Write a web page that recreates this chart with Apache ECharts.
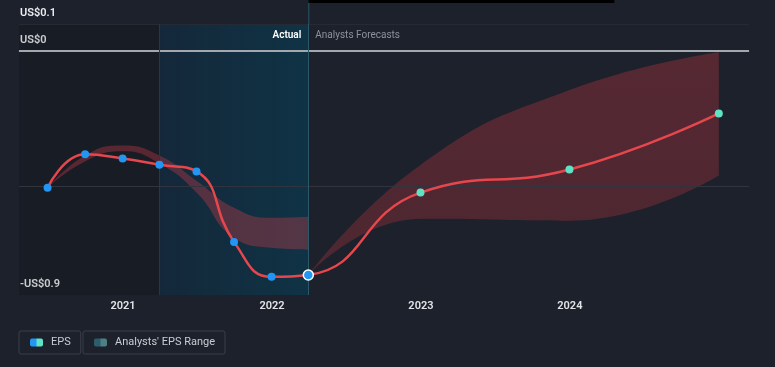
<!DOCTYPE html>
<html>
<head>
<meta charset="utf-8">
<script src="https://cdn.jsdelivr.net/npm/echarts@6/dist/echarts.min.js"></script>
<style>
  html, body { margin: 0; padding: 0; background: #1d212b; }
  #chart { width: 775px; height: 367px; }
</style>
</head>
<body>
<div id="chart"></div>
<script>
// ---- data ----
const actualDates = ['2020-06-30', '2020-09-30', '2020-12-31', '2021-03-31', '2021-06-30', '2021-09-30', '2021-12-31', '2022-03-31'];
const actualEps = [-0.504, -0.381, -0.396, -0.419, -0.444, -0.704, -0.833, -0.826];
const forecastDates = ['2022-12-31', '2023-12-31', '2024-12-31'];
const forecastEps = [-0.522, -0.437, -0.230];

const pastRangeLow = [-0.504, -0.407, -0.370, -0.415, -0.522, -0.689, -0.726, -0.733];
const pastRangeHigh = [-0.504, -0.385, -0.348, -0.385, -0.478, -0.578, -0.615, -0.611];

const fcRangeDates = ['2022-03-31', '2022-12-31', '2023-12-31', '2024-12-31'];
const fcRangeLow = [-0.826, -0.619, -0.626, -0.459];
const fcRangeHigh = [-0.826, -0.420, -0.144, -0.004];

const yearLabels = [2021, 2022, 2023, 2024];
const yTickLabels = { '0.1': 'US$0.1', '0': 'US$0', '-0.9': '-US$0.9' };
const shadeStart = '2021-03-31';
const dividerDate = '2022-03-31';
const axisMin = '2020-04-21';
const axisMax = '2025-03-15';

// ---- build ----
const FONT = 'Roboto, "Noto Sans", sans-serif';
const RED = '#e5474d';
const BLUE = '#2196f3';
const CYAN = '#5fe3c6';

const epsData = [];
actualDates.forEach((d, i) => {
  const last = i === actualDates.length - 1;
  epsData.push({
    value: [d, actualEps[i]],
    symbolSize: last ? 10 : 8,
    itemStyle: last ? { color: BLUE, borderColor: '#ffffff', borderWidth: 1.5 } : { color: BLUE, borderWidth: 0 }
  });
});
forecastDates.forEach((d, i) => {
  epsData.push({ value: [d, forecastEps[i]], symbolSize: 8, itemStyle: { color: CYAN, borderWidth: 0 } });
});

const pastLowData = actualDates.map((d, i) => [d, pastRangeLow[i]]);
const pastDiffData = actualDates.map((d, i) => [d, +(pastRangeHigh[i] - pastRangeLow[i]).toFixed(4)]);
const fcLowData = fcRangeDates.map((d, i) => [d, fcRangeLow[i]]);
const fcDiffData = fcRangeDates.map((d, i) => [d, +(fcRangeHigh[i] - fcRangeLow[i]).toFixed(4)]);

const chart = echarts.init(document.getElementById('chart'), null, { renderer: 'canvas' });

function yLabel(v) {
  for (const k in yTickLabels) {
    if (Math.abs(v - parseFloat(k)) < 1e-6) return yTickLabels[k];
  }
  return '';
}

const legendCommon = {
  top: 331,
  padding: [6, 10, 6, 11],
  borderColor: '#3a3f4a', borderWidth: 1, borderRadius: 2,
  itemWidth: 13, itemHeight: 8, itemGap: 5,
  icon: 'roundRect',
  selectedMode: false,
  textStyle: { color: '#c9ccd2', fontSize: 11, fontFamily: FONT, padding: [0, 0, 0, 3] },
  lineStyle: { opacity: 0 }
};

const option = {
  backgroundColor: '#1d212b',
  animation: false,
  textStyle: { fontFamily: FONT },
  grid: { left: 19, right: 26, top: 24, bottom: 72, containLabel: false },
  xAxis: {
    type: 'time',
    min: axisMin,
    max: axisMax,
    splitNumber: 5,
    axisLine: { show: true, lineStyle: { color: '#444955', width: 1 } },
    axisTick: { show: false },
    splitLine: { show: false },
    axisLabel: {
      color: '#e2e4e8',
      fontSize: 11,
      fontWeight: 600,
      fontFamily: FONT,
      margin: 6,
      showMinLabel: false,
      showMaxLabel: false,
      hideOverlap: false,
      formatter: function (val) {
        const d = new Date(val);
        if (d.getMonth() === 0 && d.getDate() === 1 && yearLabels.includes(d.getFullYear())) return String(d.getFullYear());
        return '';
      }
    }
  },
  yAxis: {
    type: 'value',
    min: -0.9,
    max: 0.1,
    interval: 0.1,
    axisLine: { show: false },
    axisTick: { show: false },
    splitLine: { show: false },
    axisLabel: {
      inside: true,
      margin: 1,
      verticalAlign: 'bottom',
      padding: [0, 0, 5, 0],
      color: '#eceef1',
      fontSize: 11,
      fontWeight: 600,
      fontFamily: FONT,
      showMinLabel: true,
      showMaxLabel: true,
      formatter: yLabel
    }
  },
  legend: [
    Object.assign({}, legendCommon, {
      data: ['EPS'],
      left: 19,
      itemStyle: {
        color: { type: 'linear', x: 0, y: 0, x2: 1, y2: 0, colorStops: [
          { offset: 0, color: BLUE }, { offset: 0.45, color: BLUE }, { offset: 0.55, color: CYAN }, { offset: 1, color: CYAN }] },
        borderWidth: 0
      }
    }),
    Object.assign({}, legendCommon, {
      data: ["Analysts' EPS Range"],
      left: 83,
      itemStyle: {
        color: { type: 'linear', x: 0, y: 0, x2: 1, y2: 0, colorStops: [
          { offset: 0, color: '#2c5d6e' }, { offset: 0.45, color: '#2c5d6e' }, { offset: 0.55, color: '#4d7f83' }, { offset: 1, color: '#4d7f83' }] },
        borderWidth: 0
      }
    })
  ],
  series: [
    {
      name: 'bg',
      type: 'line',
      z: 0,
      silent: true,
      data: epsData.map(d => d.value),
      showSymbol: false,
      symbol: 'none',
      lineStyle: { opacity: 0 },
      markArea: {
        silent: true,
        data: [
          [{ xAxis: axisMin, itemStyle: { color: 'rgba(0,0,0,0.14)' } }, { xAxis: shadeStart }],
          [{ xAxis: shadeStart, itemStyle: { color: { type: 'linear', x: 0, y: 0, x2: 1, y2: 0, colorStops: [
            { offset: 0, color: '#14283a' }, { offset: 1, color: '#0f3345' }] }, borderWidth: 0 } },
           { xAxis: dividerDate }]
        ]
      },
      markLine: {
        silent: true,
        symbol: 'none',
        label: { show: false },
        data: [
          { yAxis: 0.1, lineStyle: { color: '#252a34', width: 1, type: 'solid' } },
          { yAxis: -0.5, lineStyle: { color: '#2f343e', width: 1, type: 'solid' } },
          { yAxis: 0, lineStyle: { color: '#a3a7ae', width: 2, type: 'solid' } },
          { xAxis: shadeStart, lineStyle: { color: '#1f3a48', width: 1, type: 'solid' } },
          { xAxis: dividerDate, lineStyle: { color: '#2b5868', width: 1, type: 'solid' } }
        ]
      }
    },
    {
      name: 'pastLow',
      type: 'line',
      stack: 'past',
      stackStrategy: 'all',
      z: 1,
      smooth: 0.5,
      silent: true,
      symbol: 'none',
      lineStyle: { opacity: 0 },
      data: pastLowData
    },
    {
      name: "Analysts' EPS Range",
      type: 'line',
      stack: 'past',
      stackStrategy: 'all',
      z: 1,
      smooth: 0.5,
      silent: true,
      symbol: 'none',
      lineStyle: { opacity: 0 },
      areaStyle: { color: 'rgba(205,62,72,0.36)', opacity: 1 },
      data: pastDiffData
    },
    {
      name: 'fcLow',
      type: 'line',
      stack: 'fc',
      stackStrategy: 'all',
      z: 1,
      smooth: 0.5,
      silent: true,
      symbol: 'none',
      lineStyle: { opacity: 0 },
      data: fcLowData
    },
    {
      name: "Analysts' EPS Range",
      type: 'line',
      stack: 'fc',
      stackStrategy: 'all',
      z: 1,
      smooth: 0.5,
      silent: true,
      symbol: 'none',
      lineStyle: { opacity: 0 },
      areaStyle: {
        color: { type: 'linear', x: 0, y: 0, x2: 0, y2: 1, colorStops: [
          { offset: 0, color: 'rgba(205,55,65,0.32)' }, { offset: 1, color: 'rgba(205,55,65,0.27)' }] },
        opacity: 1
      },
      data: fcDiffData
    },
    {
      name: 'EPS',
      type: 'line',
      z: 5,
      zlevel: 0,
      smooth: 0.5,
      symbol: 'circle',
      showAllSymbol: true,
      lineStyle: { color: RED, width: 2.5 },
      itemStyle: { color: BLUE },
      data: epsData
    }
  ]
};

chart.setOption(option);

const px = chart.convertToPixel({ xAxisIndex: 0 }, +new Date(dividerDate));
chart.setOption({
  graphic: [
    { type: 'rect', shape: { x: px, y: 0, width: 306, height: 3 }, style: { fill: '#000000' }, z: 100 },
    { type: 'line', shape: { x1: px + 0.5, y1: 0, x2: px + 0.5, y2: 24 }, style: { stroke: '#2b5868', lineWidth: 1 }, z: 1 },
    { type: 'text', x: px - 7, y: 35, style: { text: 'Actual', fill: '#ffffff', font: '600 10px ' + FONT, textAlign: 'right', textVerticalAlign: 'middle' }, z: 100 },
    { type: 'text', x: px + 7, y: 35, style: { text: 'Analysts Forecasts', fill: '#8d929b', font: '10px ' + FONT, textAlign: 'left', textVerticalAlign: 'middle' }, z: 100 }
  ]
});
</script>
</body>
</html>
